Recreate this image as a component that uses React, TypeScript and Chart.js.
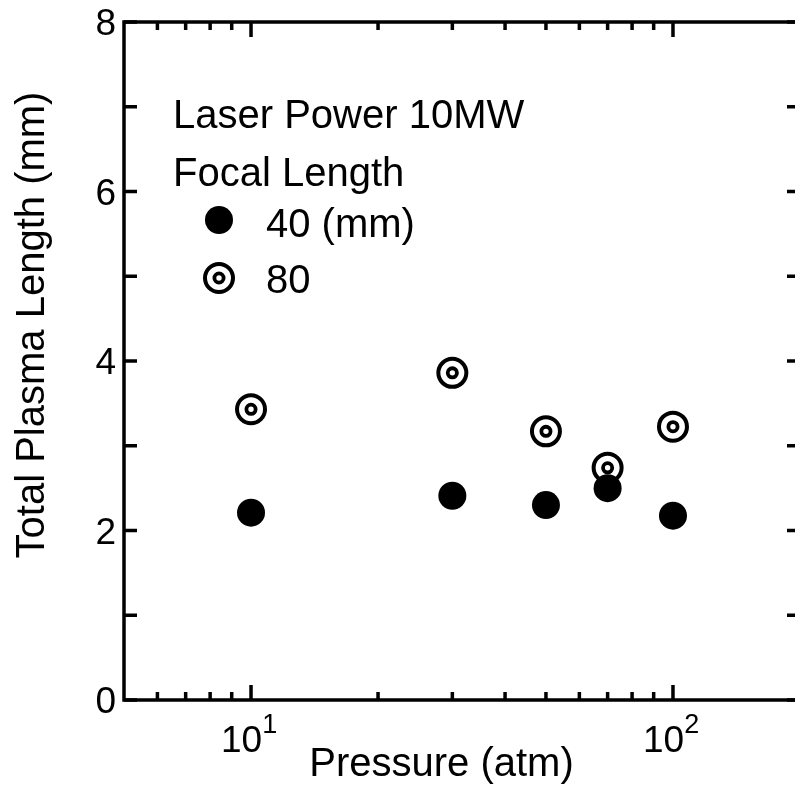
import React, { useEffect, useRef } from "react";
import { Chart, registerables } from "chart.js";

Chart.register(...registerables);

// ---- data ----
const pressureAtm = [10, 30, 50, 70, 100];
const focal40mm = [2.21, 2.41, 2.3, 2.5, 2.175];
const focal80mm = [3.43, 3.86, 3.17, 2.74, 3.225];

const yTickValues = [0, 1, 2, 3, 4, 5, 6, 7, 8];
const yTickLabels = ["0", "", "2", "", "4", "", "6", "", "8"];
const xMajorTicks = [10, 100];
const xMajorExponents = ["1", "2"];
const xMinorTicks = [6, 7, 8, 9, 20, 30, 40, 50, 60, 70, 80, 90];

const xTitle = "Pressure (atm)";
const yTitle = "Total Plasma Length (mm)";
const legendLine1 = "Laser Power 10MW";
const legendLine2 = "Focal Length";
const legendLabel40 = "40 (mm)";
const legendLabel80 = "80";

const FONT = "'Liberation Sans', Arial, Helvetica, sans-serif";

const INNER_R = 4.6;
const INNER_W = 3.8;

function drawDoubleCircle(ctx: CanvasRenderingContext2D, x: number, y: number) {
  ctx.save();
  ctx.strokeStyle = "#000";
  ctx.fillStyle = "#fff";
  ctx.lineWidth = 4;
  ctx.beginPath();
  ctx.arc(x, y, 14, 0, Math.PI * 2);
  ctx.fill();
  ctx.stroke();
  ctx.lineWidth = INNER_W;
  ctx.beginPath();
  ctx.arc(x, y, INNER_R, 0, Math.PI * 2);
  ctx.fill();
  ctx.stroke();
  ctx.restore();
}

const decorPlugin = {
  id: "decor",
  afterDraw(chart: any) {
    const ctx: CanvasRenderingContext2D = chart.ctx;
    const { left, right, top, bottom } = chart.chartArea;
    const xs = chart.scales.x;
    const ys = chart.scales.y;
    ctx.save();
    ctx.strokeStyle = "#000";
    ctx.fillStyle = "#000";
    ctx.lineWidth = 3.5;
    ctx.lineCap = "butt";
    // frame
    ctx.beginPath();
    ctx.rect(left, top, right - left, bottom - top);
    ctx.stroke();

    // y ticks (left and right, inward)
    const yLen = 13;
    yTickValues.forEach((v) => {
      const py = ys.getPixelForValue(v);
      ctx.beginPath();
      ctx.moveTo(left, py);
      ctx.lineTo(left + yLen, py);
      ctx.moveTo(right, py);
      ctx.lineTo(right - yLen, py);
      ctx.stroke();
    });
    // x ticks (bottom and top, inward)
    const drawXTick = (v: number, len: number) => {
      const px = xs.getPixelForValue(v);
      ctx.beginPath();
      ctx.moveTo(px, bottom);
      ctx.lineTo(px, bottom - len);
      ctx.moveTo(px, top);
      ctx.lineTo(px, top + len);
      ctx.stroke();
    };
    xMinorTicks.forEach((v) => drawXTick(v, 8));
    xMajorTicks.forEach((v) => drawXTick(v, 15));

    // y tick labels
    ctx.font = `37px ${FONT}`;
    ctx.textAlign = "right";
    ctx.textBaseline = "alphabetic";
    yTickValues.forEach((v, i) => {
      const lbl = yTickLabels[i];
      if (!lbl) return;
      const py = ys.getPixelForValue(v);
      ctx.fillText(lbl, left - 8, py + 13);
    });

    // x tick labels 10^n
    ctx.textAlign = "left";
    xMajorTicks.forEach((v, i) => {
      const px = xs.getPixelForValue(v);
      ctx.font = `37px ${FONT}`;
      const base = "10";
      const w = ctx.measureText(base).width;
      const x0 = px - 30;
      ctx.fillText(base, x0, bottom + 52);
      ctx.font = `27px ${FONT}`;
      ctx.fillText(xMajorExponents[i], x0 + w, bottom + 33);
    });

    // axis titles
    ctx.font = `40px ${FONT}`;
    ctx.textAlign = "center";
    ctx.fillText(xTitle, 441.5, bottom + 76);
    ctx.save();
    ctx.translate(44, 325);
    ctx.rotate(-Math.PI / 2);
    ctx.fillText(yTitle, 0, 0);
    ctx.restore();

    // legend
    ctx.textAlign = "left";
    ctx.font = `40px ${FONT}`;
    ctx.fillText(legendLine1, 173, 128);
    ctx.fillText(legendLine2, 173, 186);
    ctx.fillText(legendLabel40, 266, 237);
    ctx.fillText(legendLabel80, 266, 293);
    ctx.beginPath();
    ctx.arc(219, 220, 14, 0, Math.PI * 2);
    ctx.fill();
    drawDoubleCircle(ctx, 219, 278);
    ctx.restore();
  },
};

export default function App() {
  const ref = useRef<HTMLCanvasElement | null>(null);
  useEffect(() => {
    if (!ref.current) return;
    const pts = (ys: number[]) => pressureAtm.map((x, i) => ({ x, y: ys[i] }));
    const chart = new Chart(ref.current, {
      type: "scatter",
      data: {
        datasets: [
          {
            label: "40 (mm)",
            data: pts(focal40mm),
            order: 0,
            pointStyle: "circle",
            pointRadius: 14,
            pointBackgroundColor: "#000",
            pointBorderWidth: 0,
            pointBorderColor: "#000",
          },
          {
            label: "80 inner",
            data: pts(focal80mm),
            order: 1,
            pointStyle: "circle",
            pointRadius: INNER_R,
            pointBackgroundColor: "#fff",
            pointBorderColor: "#000",
            pointBorderWidth: INNER_W,
          },
          {
            label: "80",
            data: pts(focal80mm),
            order: 2,
            pointStyle: "circle",
            pointRadius: 14,
            pointBackgroundColor: "#fff",
            pointBorderColor: "#000",
            pointBorderWidth: 4,
          },
        ],
      },
      options: {
        responsive: false,
        animation: false,
        layout: { padding: { left: 124, top: 22, right: 30, bottom: 85 } },
        plugins: { legend: { display: false }, tooltip: { enabled: false } },
        scales: {
          x: { type: "logarithmic", min: 5, max: 200, display: false },
          y: { type: "linear", min: 0, max: 8, display: false },
        },
      } as any,
      plugins: [decorPlugin],
    });
    return () => chart.destroy();
  }, []);
  return (
    <div
      style={{
        position: "absolute",
        left: 0,
        top: 0,
        width: 795,
        height: 785,
        overflow: "hidden",
        background: "#fff",
      }}
    >
      <canvas
        ref={ref}
        width={830}
        height={785}
        style={{ display: "block", width: 830, height: 785 }}
      />
    </div>
  );
}
